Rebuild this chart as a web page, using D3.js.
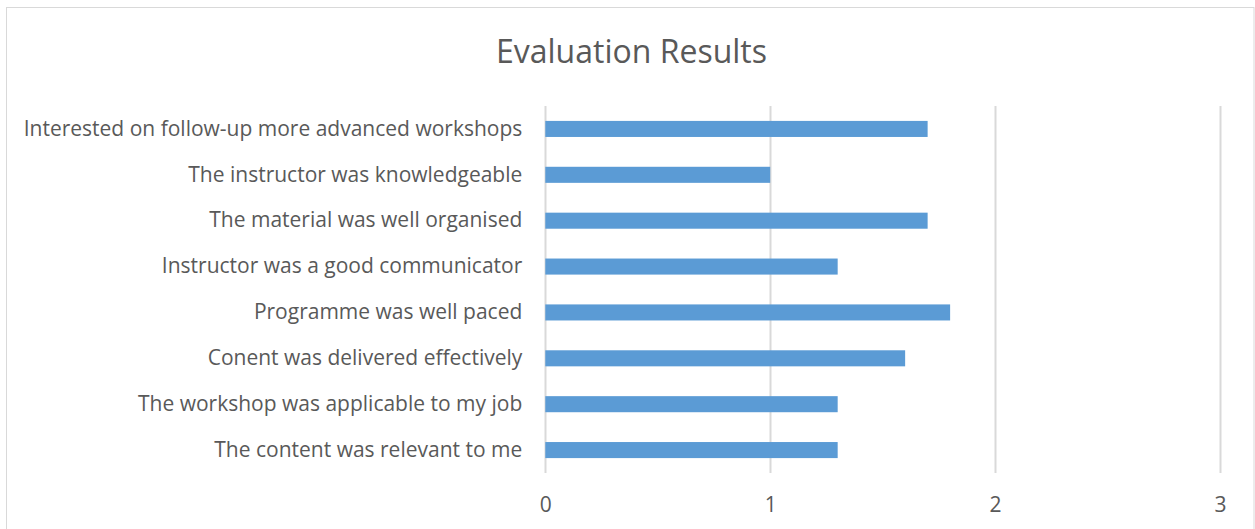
<!DOCTYPE html>
<html>
<head>
<meta charset="utf-8">
<script src="https://cdn.jsdelivr.net/npm/d3@7"></script>
<style>
  html, body { margin: 0; padding: 0; background: #fff; }
  svg { display: block; }
  text { font-family: "Open Sans", "Noto Sans", sans-serif; fill: #595959; }
</style>
</head>
<body>
<svg id="chart" width="1255" height="529"></svg>
<script>
const categories = [
  "Interested on follow-up more advanced workshops",
  "The instructor was knowledgeable",
  "The material was well organised",
  "Instructor was a good communicator",
  "Programme was well paced",
  "Conent was delivered effectively",
  "The workshop was applicable to my job",
  "The content was relevant to me"
];
const values = [1.7, 1.0, 1.7, 1.3, 1.8, 1.6, 1.3, 1.3];
const xTicks = [0, 1, 2, 3];
const title = "Evaluation Results";

const svg = d3.select("#chart");
const W = 1255, H = 529;

// chart border
svg.append("rect")
  .attr("x", 6.5).attr("y", 7.5)
  .attr("width", 1247.5).attr("height", 540)
  .attr("fill", "#fff").attr("stroke", "#d9d9d9").attr("stroke-width", 1);

const plot = { left: 545.3, right: 1220, top: 106, bottom: 473 };

const x = d3.scaleLinear().domain([0, 3]).range([plot.left, plot.right]);
const y = d3.scaleBand().domain(categories).range([plot.top, plot.bottom])
  .paddingInner(0.65).paddingOuter(0.325);

// title
svg.append("text")
  .attr("x", 631.5).attr("y", 63)
  .attr("text-anchor", "middle")
  .style("font-size", "32px")
  .text(title);

// gridlines
svg.append("g").selectAll("line").data(xTicks).join("line")
  .attr("x1", d => Math.round(x(d)) + 0.5).attr("x2", d => Math.round(x(d)) + 0.5)
  .attr("y1", plot.top).attr("y2", plot.bottom)
  .attr("stroke", "#d9d9d9").attr("stroke-width", 2);

// bars
svg.append("g").selectAll("rect").data(values).join("rect")
  .attr("x", x(0))
  .attr("y", (d, i) => y(categories[i]))
  .attr("width", d => x(d) - x(0))
  .attr("height", y.bandwidth())
  .attr("fill", "#5b9bd5");

// x axis labels
const xAxis = d3.axisBottom(x).tickValues(xTicks).tickSize(0).tickPadding(0).tickFormat(d3.format("d"));
const gx = svg.append("g").attr("transform", `translate(0, ${plot.bottom})`).call(xAxis);
gx.select(".domain").remove();
gx.selectAll("text")
  .attr("y", 39).attr("dy", null)
  .style("font-size", "21px")
  .attr("fill", "#595959");

// y axis labels
const yAxis = d3.axisLeft(y).tickSize(0).tickPadding(23);
const gy = svg.append("g").attr("transform", `translate(${plot.left}, 0)`).call(yAxis);
gy.select(".domain").remove();
gy.selectAll("text")
  .style("font-size", "21px")
  .attr("fill", "#595959");
</script>
</body>
</html>
